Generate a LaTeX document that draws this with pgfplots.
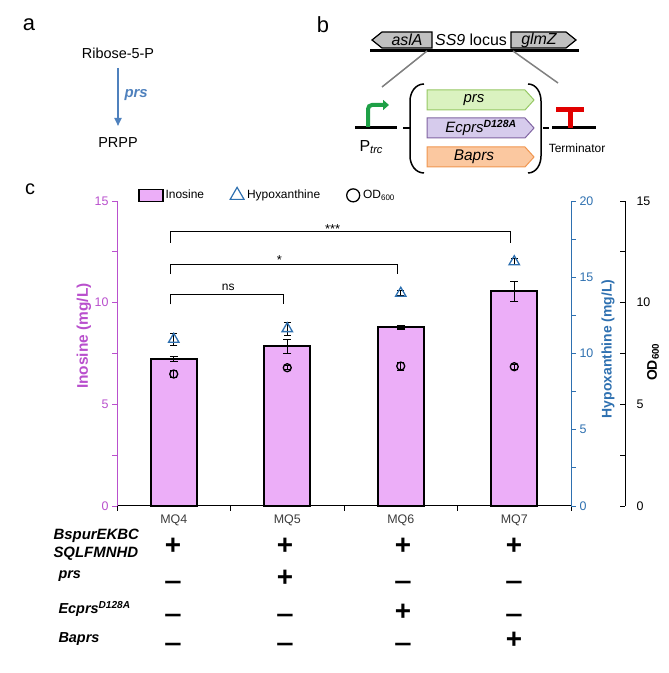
\documentclass[border=0pt]{standalone}
\usepackage{fontspec}
\setmainfont{Liberation Sans}
\usepackage{pgfplots}
\pgfplotsset{compat=1.18}
\usetikzlibrary{arrows.meta}
\definecolor{purp}{RGB}{185,80,205}
\definecolor{barfill}{RGB}{236,174,248}
\definecolor{hblue}{RGB}{46,112,176}
\definecolor{arrblue}{RGB}{79,129,189}
\definecolor{tickgray}{RGB}{60,60,60}
\definecolor{prsfill}{RGB}{218,242,192}
\definecolor{prsdraw}{RGB}{150,200,100}
\definecolor{ecfill}{RGB}{214,203,236}
\definecolor{ecdraw}{RGB}{128,100,162}
\definecolor{bafill}{RGB}{251,200,160}
\definecolor{badraw}{RGB}{240,150,80}
\definecolor{gengray}{RGB}{192,192,192}
\definecolor{promgreen}{RGB}{30,160,70}
\definecolor{termred}{RGB}{225,0,0}
\pgfplotsset{
  legbar/.style={legend image code/.code={\draw[##1, line width=1.6pt] (0bp,-6bp) rectangle (24bp,6bp);}},
  legmark/.style={legend image code/.code={\path[draw=none,fill=none] (0bp,-7bp) rectangle (16bp,7bp); \draw[##1] plot coordinates {(8bp,0bp)};}},
}
\newcommand{\fs}[1]{\fontsize{#1}{#1}\selectfont}
\begin{document}
\begin{tikzpicture}[x=1bp,y=1bp]
\path[use as bounding box] (0,0) rectangle (669,673);

% ---------- axis 1: Inosine ----------
\begin{axis}[
  at={(117bp,167bp)}, anchor=south west,
  scale only axis, width=454bp, height=305bp,
  xmin=0.5, xmax=4.5, ymin=0, ymax=15,
  axis x line*=bottom, axis y line*=left,
  x axis line style={black, line width=1pt},
  y axis line style={purp, line width=1pt},
  xtick={1,2,3,4}, xticklabels={MQ4,MQ5,MQ6,MQ7},
  minor xtick={0.5,1.5,2.5,3.5,4.5},
  major x tick style={draw=none},
  minor x tick style={black, line width=0.8pt},
  tick align=outside,
  major tick length=5bp, minor tick length=5bp,
  xticklabel style={font=\fs{12.5}, text=tickgray},
  ytick={0,5,10,15}, minor ytick={2.5,7.5,12.5},
  y tick style={purp, line width=0.8pt},
  yticklabel style={font=\fs{12.5}, text=purp},
  /pgf/number format/assume math mode=true,
  ylabel={Inosine (mg/L)},
  ylabel style={at={(axis description cs:-0.0727,0.557)}, anchor=center, font=\fs{15.5}\bfseries, text=purp},
  clip=false,
]
\addplot[ybar, bar width=46bp, fill=barfill, draw=black, line width=2pt,
  error bars/.cd, y dir=both, y explicit,
  error bar style={line width=1.2pt, black},
  error mark options={rotate=90, mark size=4bp, line width=1.2pt, black}]
  coordinates {(1,7.22) +- (0,0.13) (2,7.85) +- (0,0.35) (3,8.78) +- (0,0.08) (4,10.56) +- (0,0.5)};
% significance brackets
\draw[black, line width=1pt] (axis cs:0.97,12.94) -- (axis cs:0.97,13.48) -- (axis cs:3.97,13.48) -- (axis cs:3.97,12.94);
\draw[black, line width=1pt] (axis cs:0.97,11.40) -- (axis cs:0.97,11.89) -- (axis cs:2.97,11.89) -- (axis cs:2.97,11.40);
\draw[black, line width=1pt] (axis cs:0.97,9.91) -- (axis cs:0.97,10.42) -- (axis cs:1.97,10.42) -- (axis cs:1.97,9.91);
\node[anchor=base, font=\fs{13}, inner sep=0] at (axis cs:2.40,13.39) {***};
\node[anchor=base, font=\fs{13}, inner sep=0] at (axis cs:1.93,11.87) {*};
\node[anchor=base, font=\fs{12}, inner sep=0] at (axis cs:1.48,10.61) {ns};
\end{axis}

% ---------- axis 2: Hypoxanthine ----------
\begin{axis}[
  at={(117bp,167bp)}, anchor=south west,
  scale only axis, width=454bp, height=305bp,
  xmin=0.5, xmax=4.5, ymin=0, ymax=20,
  axis y line*=right, hide x axis,
  y axis line style={hblue, line width=1pt},
  ytick={0,5,10,15,20}, minor ytick={2.5,7.5,12.5,17.5},
  tick align=outside, major tick length=5bp, minor tick length=5bp,
  y tick style={hblue, line width=0.8pt},
  yticklabel style={font=\fs{12.5}, text=hblue},
  /pgf/number format/assume math mode=true,
  ylabel={Hypoxanthine (mg/L)},
  ylabel style={at={(axis description cs:1.0815,0.515)}, anchor=center, font=\fs{14}\bfseries, text=hblue},
  clip=false,
]
\addplot[only marks, mark=triangle, mark size=6bp, hblue, mark options={line width=1.3pt},
  error bars/.cd, y dir=both, y explicit,
  error bar style={black, line width=1pt},
  error mark options={rotate=90, mark size=3.5bp, black, line width=1pt}]
  coordinates {(1,10.93) +- (0,0.4) (2,11.63) +- (0,0.42) (3,13.95) +- (0,0.15) (4,16.02) +- (0,0.2)};
\end{axis}

% ---------- axis 3: OD600 ----------
\begin{axis}[
  at={(117bp,167bp)}, anchor=south west,
  scale only axis, width=508bp, height=305bp,
  xmin=0.5, xmax=4.9758, ymin=0, ymax=15,
  axis y line*=right, hide x axis,
  y axis line style={black, line width=1pt},
  ytick={0,5,10,15}, minor ytick={2.5,7.5,12.5},
  tick align=inside, major tick length=5bp, minor tick length=5bp,
  y tick style={black, line width=0.8pt},
  yticklabel style={font=\fs{12.5}, text=black, xshift=8bp},
  /pgf/number format/assume math mode=true,
  ylabel={OD\textsubscript{600}},
  ylabel style={at={(axis description cs:1.0551,0.472)}, anchor=center, font=\fs{14}\bfseries, text=black},
  clip=false,
  legend columns=3,
  legend style={at={(axis description cs:0.035,1.02)}, anchor=west, draw=none, fill=none,
    font=\fs{12}, /tikz/every even column/.append style={column sep=23bp}},
]
\addlegendimage{legbar, fill=barfill, draw=black}
\addlegendentry{Inosine}
\addlegendimage{legmark, only marks, mark=triangle, mark size=8bp, hblue, mark options={line width=1.2pt}}
\addlegendentry{Hypoxanthine}
\addlegendimage{legmark, only marks, mark=o, mark size=6.5bp, black, mark options={line width=1.3pt}}
\addlegendentry{OD\textsubscript{600}}
\addplot[forget plot, only marks, mark=o, mark size=4bp, black, mark options={line width=1.3pt},
  error bars/.cd, y dir=both, y explicit,
  error bar style={black, line width=1pt},
  error mark options={rotate=90, mark size=3.5bp, black, line width=1pt}]
  coordinates {(1,6.49) +- (0,0.15) (2,6.80) +- (0,0.1) (3,6.88) +- (0,0.2) (4,6.85) +- (0,0.12)};
\end{axis}

% ---------- panel labels ----------
\node[font=\fs{22}] at (29,648) {a};
\node[font=\fs{22}] at (323,648) {b};
\node[font=\fs{20}] at (30,484) {c};

% ---------- panel a ----------
\node[font=\fs{14.5}] at (118,620) {Ribose-5-P};
\draw[arrblue, line width=1.8bp, -{Triangle[length=8bp,width=7bp]}] (118,605) -- (118,547);
\node[anchor=west, font=\fs{15}\bfseries\itshape, text=arrblue] at (121,578) {prs};
\node[font=\fs{14.5}] at (118,530) {PRPP};

% ---------- panel b ----------
\draw[black, line width=3bp] (370,622) -- (579,622);
\draw[gray, line width=1.5bp] (427,622) -- (382,586);
\draw[gray, line width=1.5bp] (513,622) -- (558,590);
\draw[fill=gengray, draw=black, line width=1.2bp] (372,633) -- (382,641) -- (432,641) -- (432,625) -- (382,625) -- cycle;
\draw[fill=gengray, draw=black, line width=1.2bp] (511,641) -- (566,641) -- (576,633) -- (566,625) -- (511,625) -- cycle;
\node[font=\fs{16}\itshape] at (407,633) {aslA};
\node[font=\fs{16}] at (471,633) {\textit{SS9} locus};
\node[font=\fs{16}\itshape] at (539,633) {glmZ};
% promoter
\draw[black, line width=3bp] (355,545) -- (397,545);
\draw[promgreen, line width=4bp, rounded corners=4bp, -{Triangle[length=6bp,width=10bp]}] (368,546) -- (368,568) -- (389,568);
\node[anchor=west, font=\fs{16}] at (356,526) {P\textsubscript{\itshape trc}};
% dashes
\draw[black, line width=1.5bp] (403,545) -- (410,545);
\draw[black, line width=1.5bp] (543,545) -- (549,545);
% parentheses
\draw[black, line width=1.5bp] (424,589) to[out=180,in=90] (410,572) -- (410,517) to[out=-90,in=180] (424,500);
\draw[black, line width=1.5bp] (528,589) to[out=0,in=90] (541,572) -- (541,517) to[out=-90,in=0] (528,500);
% gene boxes
\draw[fill=prsfill, draw=prsdraw, line width=1bp] (427,583) -- (525,583) -- (534,573) -- (525,563) -- (427,563) -- cycle;
\draw[fill=ecfill, draw=ecdraw, line width=1bp] (427,555) -- (525,555) -- (534,545) -- (525,535) -- (427,535) -- cycle;
\draw[fill=bafill, draw=badraw, line width=1bp] (427,526) -- (525,526) -- (534,516) -- (525,506) -- (427,506) -- cycle;
\node[font=\fs{15}\itshape] at (474,573) {prs};
\node[font=\fs{15}\itshape] at (481,545) {Ecprs\textsuperscript{\bfseries D128A}};
\node[font=\fs{15.5}\itshape] at (474,516) {Baprs};
% terminator
\draw[black, line width=3bp] (552,545) -- (596,545);
\draw[termred, line width=5bp] (570,545) -- (570,563);
\draw[termred, line width=5bp] (556,563) -- (584,563);
\node[font=\fs{12}] at (577,525) {Terminator};

% ---------- genotype table ----------
\node[anchor=west, align=left, font=\fontsize{15}{18}\selectfont\bfseries\itshape] at (50,128) {BspurEKBC\\SQLFMNHD};
\node[anchor=west, font=\fs{14.5}\bfseries\itshape] at (55,97) {prs};
\node[anchor=west, font=\fs{14.5}\bfseries\itshape] at (55,64) {Ecprs\textsuperscript{D128A}};
\node[anchor=west, font=\fs{14.5}\bfseries\itshape] at (55,34) {Baprs};
\tikzset{pl/.style={font=\fs{28}\bfseries, inner sep=0}, mi/.style={font=\fs{26}\bfseries, inner sep=0, xscale=1.2}}
% row 1
\node[pl] at (173,127) {+};
\node[pl] at (285,127) {+};
\node[pl] at (403,127) {+};
\node[pl] at (514,127) {+};
% row 2
\node[mi] at (173,88) {–};
\node[pl] at (285,95) {+};
\node[mi] at (403,88) {–};
\node[mi] at (514,88) {–};
% row 3
\node[mi] at (173,55) {–};
\node[mi] at (285,55) {–};
\node[pl] at (403,61) {+};
\node[mi] at (514,55) {–};
% row 4
\node[mi] at (173,26) {–};
\node[mi] at (285,26) {–};
\node[mi] at (403,26) {–};
\node[pl] at (514,33) {+};
\end{tikzpicture}
\end{document}
